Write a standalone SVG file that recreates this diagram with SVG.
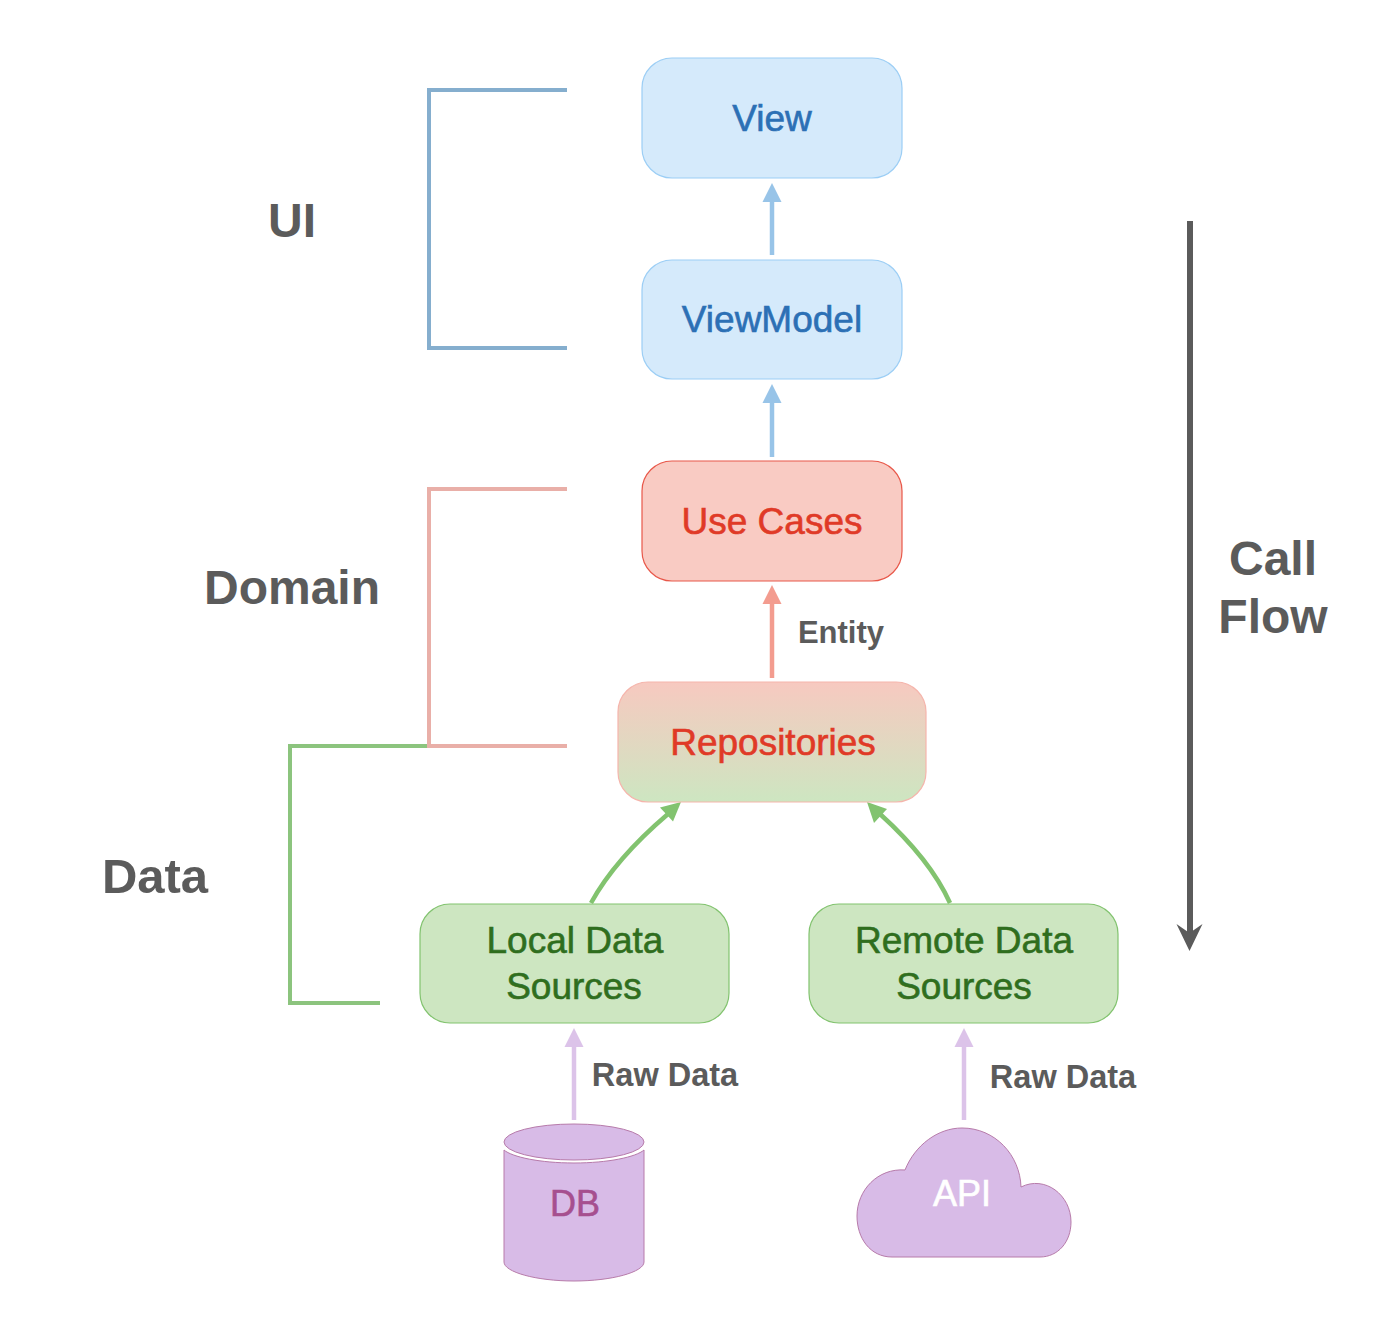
<svg xmlns="http://www.w3.org/2000/svg" width="1398" height="1334" viewBox="0 0 1398 1334">
<style>
text{font-family:"Liberation Sans",Arial,sans-serif;text-anchor:middle}
.box{font-size:37px;stroke-width:.6}
.blue{fill:#D5EAFB;stroke:#9CCEF5;stroke-width:1.2}
.bt{fill:#2C70B5;stroke:#2C70B5}
.green{fill:#CDE6C1;stroke:#82C36F;stroke-width:1.2}
.gt{fill:#2F6E1E;stroke:#2F6E1E}
.rt{fill:#E03A27;stroke:#E03A27}
.layer{font-size:48px;font-weight:bold;fill:#5B5B5B}
.edge{font-size:31px;font-weight:bold;fill:#5B5B5B}
.raw{font-size:32.500px}
.br{fill:none;stroke-width:4}
.con{fill:none;stroke-width:4.500}
.pur{fill:#D8BBE7;stroke:#B77BAA;stroke-width:1}
</style>
<defs>
<linearGradient id="rg" x1="0" y1="0" x2="0" y2="1"><stop offset="0" stop-color="#F7C9C0"/><stop offset="1" stop-color="#CDE6C1"/></linearGradient>
</defs>
<g id="connectors">
<path class="br" stroke="#85AECE" d="M567 90H429V348H567"/>
<path class="br" stroke="#8CC47E" d="M380 1003H290V746H429"/>
<path class="br" stroke="#E9AFA8" d="M567 489H429V746H567"/>
<path class="con" stroke="#98C4E8" d="M772 255V200"/><path fill="#98C4E8" d="M772 183l9.500 19h-19z"/>
<path class="con" stroke="#98C4E8" d="M772 457V402"/><path fill="#98C4E8" d="M772 384l9.500 19h-19z"/>
<path class="con" stroke="#F39C8F" d="M772 678V603"/><path fill="#F39C8F" d="M772 585l9.500 19h-19z"/>
<path class="con" stroke="#82C36F" d="M591 903C608 872 634 843 668 814"/><path fill="#82C36F" d="M681 802l-8 19.500-13-14z"/>
<path class="con" stroke="#82C36F" d="M950 903C936 872 911 842 880 814"/><path fill="#82C36F" d="M867 802l20 7-13 14z"/>
<path class="con" stroke="#DCC3E9" d="M574 1120V1046"/><path fill="#DCC3E9" d="M574 1028l9.500 19h-19z"/>
<path class="con" stroke="#DCC3E9" d="M964 1120V1046"/><path fill="#DCC3E9" d="M964 1028l9.500 19h-19z"/>
<path fill="none" stroke="#5B5B5B" stroke-width="6" d="M1190 221V935"/><path fill="#5B5B5B" d="M1189.500 951l-13-27 13 9 13-9z"/>
</g>
<g id="view"><rect class="blue" x="642" y="58" width="260" height="120" rx="30"/><text class="box bt" x="772" y="131">View</text></g>
<g id="viewmodel"><rect class="blue" x="642" y="260" width="260" height="119" rx="30"/><text class="box bt" x="772" y="332">ViewModel</text></g>
<g id="usecases"><rect x="642" y="461" width="260" height="120" rx="30" fill="#F9CBC3" stroke="#E8584A" stroke-width="1.2"/><text class="box rt" x="772" y="534">Use Cases</text></g>
<g id="repositories"><rect x="618" y="682" width="308" height="120" rx="30" fill="url(#rg)" stroke="#F5B5AC" stroke-width="1.2"/><text class="box rt" x="773" y="755">Repositories</text></g>
<g id="local"><rect class="green" x="420" y="904" width="309" height="119" rx="30"/><text class="box gt" x="575" y="953">Local Data</text><text class="box gt" x="574" y="999">Sources</text></g>
<g id="remote"><rect class="green" x="809" y="904" width="309" height="119" rx="30"/><text class="box gt" x="964" y="953">Remote Data</text><text class="box gt" x="964" y="999">Sources</text></g>
<g id="db"><path class="pur" d="M504 1150C512 1157 540 1163 574 1163C608 1163 636 1157 644 1150V1262C644 1272 612 1281 574 1281C536 1281 504 1272 504 1262Z"/><ellipse class="pur" cx="574" cy="1142" rx="70" ry="18"/><text x="575" y="1216" font-size="36" fill="#A64F8F" stroke="#A64F8F" stroke-width=".6">DB</text></g>
<g id="api"><path class="pur" d="M892 1257C870 1257 857 1238 857 1216C857 1190 878 1168 905 1170C915 1145 938 1128 962 1128C995 1128 1020 1155 1021 1187C1045 1175 1071 1195 1071 1222C1071 1242 1058 1257 1040 1257Z"/><text x="962" y="1206" font-size="36" fill="#FFFFFF" stroke="#FFFFFF" stroke-width=".6">API</text></g>
<g id="labels">
<text class="layer" x="292" y="237">UI</text>
<text class="layer" x="292" y="604">Domain</text>
<text class="layer" x="155" y="893" font-size="49" style="font-size:49px">Data</text>
<text class="layer" x="1273" y="575">Call</text>
<text class="layer" x="1273" y="633">Flow</text>
<text class="edge" x="841" y="643">Entity</text>
<text class="edge raw" x="665" y="1086">Raw Data</text>
<text class="edge raw" x="1063" y="1088">Raw Data</text>
</g>
</svg>
